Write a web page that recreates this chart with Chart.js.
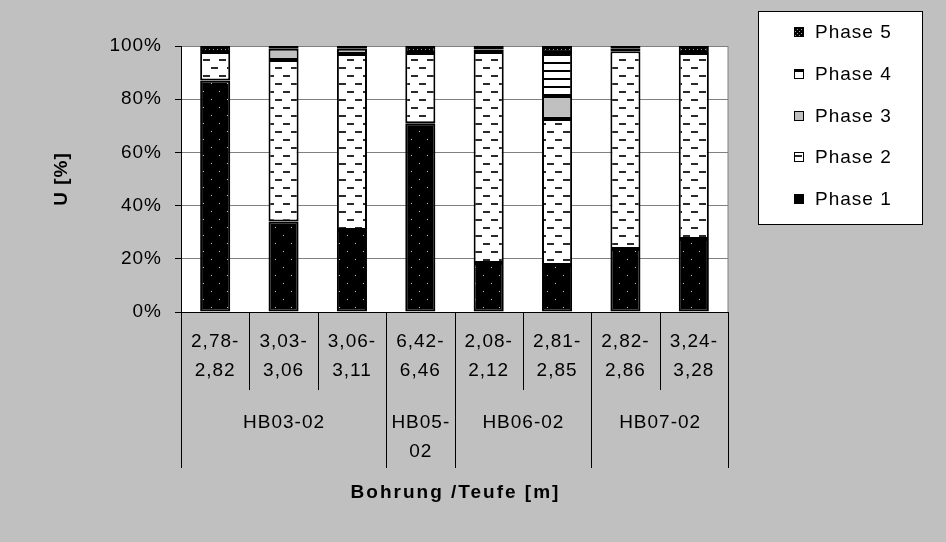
<!DOCTYPE html>
<html><head><meta charset="utf-8">
<script src="https://cdn.jsdelivr.net/npm/chart.js@4/dist/chart.umd.min.js"></script>
<style>html,body{margin:0;padding:0;background:#c0c0c0;overflow:hidden}</style>
</head><body>
<canvas id="c" width="946" height="542"></canvas>
<script>
// ---- data ----
const depthLabels = [["2,78-","2,82"],["3,03-","3,06"],["3,06-","3,11"],["6,42-","6,46"],["2,08-","2,12"],["2,81-","2,85"],["2,82-","2,86"],["3,24-","3,28"]];
const groupLabels = [["HB03-02"],["HB05-","02"],["HB06-02"],["HB07-02"]];
const groupSizes = [3,1,2,2];
const seriesNames = ["Phase 1","Phase 2","Phase 3","Phase 4","Phase 5"];
const phase1 = [87.0, 34.0, 30.8, 71.0, 18.4, 17.7, 23.7, 27.4];
const phase2 = [10.7, 60.7, 66.2, 26.4, 79.3, 54.9, 74.3, 70.0];
const phase3 = [0, 4.3, 2.0, 0, 1.0, 8.6, 1.0, 0];
const phase4 = [0, 0, 0, 0, 0, 16.2, 0, 0];
const phase5 = [2.3, 1.0, 1.0, 2.6, 1.3, 2.6, 1.0, 2.6];
const yTickValues = [0,20,40,60,80,100];
const xTitle = "Bohrung /Teufe [m]";
const yTitle = "U [%]";

const FONT = "'Liberation Sans', Arial, sans-serif";

// ---- patterns ----
function tile(w,h,draw){const c=document.createElement('canvas');c.width=w;c.height=h;const g=c.getContext('2d');draw(g);return document.getElementById('c').getContext('2d').createPattern(c,'repeat');}
const pat1 = tile(16,16,g=>{g.fillStyle='#000';g.fillRect(0,0,16,16);g.fillStyle='#c8c8c8';g.fillRect(3,3,1,1);g.fillRect(11,11,1,1);});
const pat2 = tile(16,16,g=>{g.fillStyle='#fff';g.fillRect(0,0,16,16);g.fillStyle='#2a2a2a';g.fillRect(3,3,7,2);g.fillRect(11,11,7,2);g.fillRect(0,11,2,2);});
const pat3 = '#c0c0c0';
const pat4 = tile(8,8,g=>{g.fillStyle='#fff';g.fillRect(0,0,8,8);g.fillStyle='#000';g.fillRect(0,6,8,2);});
const pat5 = tile(4,4,g=>{g.fillStyle='#000';g.fillRect(0,0,4,4);g.fillStyle='#9a9a9a';g.fillRect(1,1,1,1);g.fillRect(3,3,1,1);});
const patterns = [pat1,pat2,pat3,pat4,pat5];
const seriesData = [phase1,phase2,phase3,phase4,phase5];

const bgPlugin = {
  id:'bg',
  beforeDraw(chart){
    const {ctx, chartArea:a} = chart;
    ctx.save();
    ctx.fillStyle='#c0c0c0'; ctx.fillRect(0,0,chart.width,chart.height);
    ctx.fillStyle='#fff'; ctx.fillRect(a.left,a.top,a.right-a.left,a.bottom-a.top);
    ctx.strokeStyle='#808080'; ctx.lineWidth=1;
    ctx.strokeRect(a.left+0.5,a.top+0.5,a.right-a.left-0.5,a.bottom-a.top);
    ctx.restore();
    ctx.letterSpacing='1px';
  },
  afterDraw(chart){
    const {ctx, chartArea:a} = chart;
    const xs = chart.scales.x;
    const n = depthLabels.length;
    const bound = i => i<=0 ? a.left : (i>=n ? a.right : (xs.getPixelForValue(i-1)+xs.getPixelForValue(i))/2);
    const base = xs.top;
    ctx.save();
    ctx.strokeStyle='#000'; ctx.lineWidth=1;
    // group boundaries
    const gb=[0]; groupSizes.forEach(s=>gb.push(gb[gb.length-1]+s));
    for(let i=0;i<=n;i++){
      const x=Math.round(bound(i))+0.5;
      const isGroup = gb.includes(i);
      ctx.beginPath(); ctx.moveTo(x,base); ctx.lineTo(x, base + (isGroup?156:78)); ctx.stroke();
    }
    // group labels
    ctx.letterSpacing='1px';
    ctx.fillStyle='#000'; ctx.font='19px '+FONT; ctx.textAlign='center'; ctx.textBaseline='middle';
    groupLabels.forEach((lab,gi)=>{
      const cx=(bound(gb[gi])+bound(gb[gi+1]))/2;
      lab.forEach((t,li)=>ctx.fillText(t, cx+0.5, base+111+li*29));
    });
    // axis titles
    ctx.font='bold 19px '+FONT; ctx.letterSpacing='2px';
    ctx.fillText(xTitle, (a.left+a.right)/2+1, 493);
    ctx.letterSpacing='1px';
    ctx.save(); ctx.translate(62,(a.top+a.bottom)/2); ctx.rotate(-Math.PI/2);
    ctx.fillText(yTitle,0,0); ctx.restore();
    // legend
    const L=758, T=11, W=164, H=213;
    ctx.fillStyle='#fff'; ctx.fillRect(L,T,W,H);
    ctx.strokeStyle='#000'; ctx.strokeRect(L+0.5,T+0.5,W,H);
    ctx.font='19px '+FONT; ctx.textAlign='left';
    const ds = chart.data.datasets;
    for(let k=0;k<ds.length;k++){
      const d = ds[ds.length-1-k];
      const cy = Math.round(32 + k*41.8);
      ctx.fillStyle=d.backgroundColor; ctx.fillRect(794,cy-5,10,10);
      ctx.strokeStyle='#000'; ctx.strokeRect(794.5,cy-4.5,9,9);
      ctx.fillStyle='#000'; ctx.fillText(d.label, 815, cy+1);
    }
    ctx.restore();
  }
};

new Chart(document.getElementById('c'), {
  type:'bar',
  data:{
    labels: depthLabels,
    datasets: seriesNames.map((name,i)=>({
      label:name, data:seriesData[i], backgroundColor:patterns[i],
      borderColor:'#000', borderWidth:2, borderSkipped:false,
      barPercentage:0.44, categoryPercentage:1.0
    }))
  },
  options:{
    responsive:false, animation:false, devicePixelRatio:1,
    layout:{padding:{left:0,top:46,right:218,bottom:0}},
    plugins:{legend:{display:false}, tooltip:{enabled:false}},
    scales:{
      x:{stacked:true, offset:true,
        grid:{display:true, drawOnChartArea:false, drawTicks:false},
        border:{display:true, color:'#000', width:1},
        ticks:{color:'#000', font:{family:FONT, size:19, lineHeight:29/19}, padding:15.5, maxRotation:0, minRotation:0, autoSkip:false},
        afterFit(s){s.height=230;}
      },
      y:{stacked:true, min:0, max:100,
        afterBuildTicks(s){s.ticks=yTickValues.map(v=>({value:v}));},
        grid:{color:'#808080', tickColor:'#000', tickLength:6, drawTicks:true},
        border:{display:true, color:'#000', width:1},
        ticks:{color:'#000', font:{family:FONT, size:19}, padding:13, callback:v=>v+'%'},
        afterFit(s){s.width=181;}
      }
    }
  },
  plugins:[bgPlugin]
});
</script>
</body></html>
